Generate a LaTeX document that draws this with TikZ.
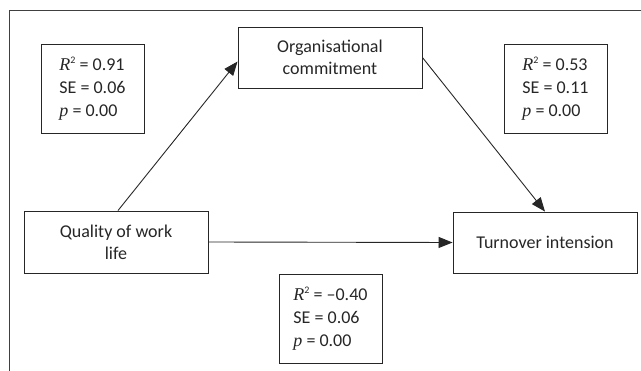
\documentclass[tikz,border=0pt]{standalone}
\usepackage{fontspec}
\setmainfont{Carlito}
\newfontfamily\serfont{Liberation Serif}
\usetikzlibrary{arrows.meta,calc}
\newcommand{\ivar}[1]{{\serfont\itshape #1}}
\newcommand{\sqr}{\raisebox{0.75ex}{\fontsize{10}{10}\selectfont 2}}
\tikzset{
  box/.style={draw=black!85, line width=0.9pt, inner sep=0pt, align=center,
    font=\fontsize{18}{22}\selectfont, text=black!85},
  stat/.style={box, minimum width=103pt, minimum height=89pt, align=left,
    font=\fontsize{18}{23}\selectfont},
  conn/.style={draw=black!85, line width=0.9pt, -{Triangle[length=14pt,width=11pt]}}
}
\begin{document}
\begin{tikzpicture}[x=1pt,y=-1pt]
\useasboundingbox (0,0) rectangle (641,371);
\begin{scope}
\clip (0,0) rectangle (641,371);
\draw[black!75, line width=1pt] (9,380) -- (9,11) -- (650,11);
\end{scope}
\node[stat] (s1) at (92.5,88.5) {\ivar{R}\sqr{} = 0.91\\SE = 0.06\\\ivar{p} = 0.00};
\node[box, minimum width=184pt, minimum height=61pt] (org) at (330,57.5) {Organisational\\commitment};
\node[stat] (s2) at (555.5,88.5) {\ivar{R}\sqr{} = 0.53\\SE = 0.11\\\ivar{p} = 0.00};
\node[box, minimum width=184pt, minimum height=62pt] (qwl) at (116,242) {Quality of work\\life};
\node[box, minimum width=184pt, minimum height=61pt] (turn) at (545,242.5) {Turnover intension};
\node[stat] (s3) at (330.5,318.5) {\ivar{R}\sqr{} = –0.40\\SE = 0.06\\\ivar{p} = 0.00};
\draw[conn] ($(qwl.north)+(2,0)$) -- ($(org.west)+(0,4)$);
\draw[conn] (org.east) -- (turn.north);
\draw[conn] (qwl.east) -- (turn.west);
\end{tikzpicture}
\end{document}
